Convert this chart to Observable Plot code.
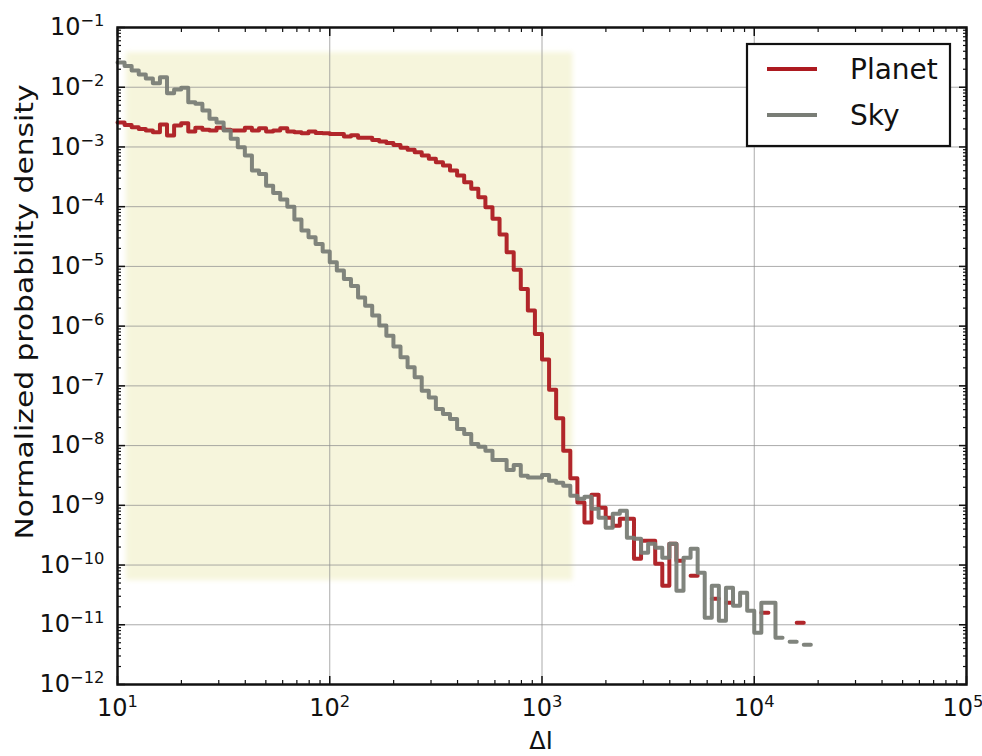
<!DOCTYPE html>
<html><head><meta charset="utf-8">
<script src="https://cdn.jsdelivr.net/npm/d3@7"></script>
<script src="https://cdn.jsdelivr.net/npm/@observablehq/plot@0.6"></script>
<style>body{margin:0;background:#fff;overflow:hidden;}</style>
</head><body><div id="chart"></div>
<script>
// log-spaced histogram bins: 30 per decade, starting at 10
const binMantissa = [1, 1.0798, 1.1659, 1.2589, 1.3594, 1.4678, 1.5849, 1.7113, 1.8478, 1.9953,
  2.1544, 2.3263, 2.5119, 2.7123, 2.9286, 3.1623, 3.4146, 3.6869, 3.9811, 4.2987,
  4.6416, 5.0119, 5.4117, 5.8434, 6.3096, 6.8129, 7.3564, 7.9433, 8.5770, 9.2612];
const binDecades = [10, 100, 1000, 10000];

// Normalized probability density per bin (null = empty bin)
const planet = [
  2.56e-3, 2.33e-3, 2.14e-3, 2.00e-3, 1.88e-3, 1.76e-3, 2.37e-3, 1.55e-3, 2.28e-3, 2.49e-3,
  1.81e-3, 2.09e-3, 1.95e-3, 1.88e-3, 2.09e-3, 1.95e-3, 1.88e-3, 1.88e-3, 2.09e-3, 1.88e-3,
  2.05e-3, 1.81e-3, 1.88e-3, 2.05e-3, 1.81e-3, 1.76e-3, 1.69e-3, 1.81e-3, 1.72e-3, 1.69e-3,
  1.65e-3, 1.65e-3, 1.49e-3, 1.57e-3, 1.42e-3, 1.42e-3, 1.31e-3, 1.23e-3, 1.17e-3, 1.08e-3,
  9.66e-4, 8.94e-4, 8.15e-4, 7.18e-4, 6.32e-4, 5.55e-4, 4.88e-4, 4.02e-4, 3.32e-4, 2.56e-4,
  1.99e-4, 1.44e-4, 9.77e-5, 6.25e-5, 3.41e-5, 1.72e-5, 8.83e-6, 4.20e-6, 1.82e-6, 7.40e-7,
  2.75e-7, 8.63e-8, 2.88e-8, 8.22e-9, 2.84e-9, 1.12e-9, 5.18e-10, 1.51e-9, 9.12e-10, 6.20e-10,
  4.55e-10, 5.97e-10, 5.97e-10, 1.28e-10, 2.55e-10, 2.55e-10, 1.05e-10, 4.50e-11, 2.28e-10, 1.18e-10,
  null, 6.62e-11, null, null, 2.73e-11, null, 2.34e-11, null, null, null,
  null, 1.59e-11, null, null, null, null, 1.08e-11, null
];
const sky = [
  2.59e-2, 2.26e-2, 1.90e-2, 1.63e-2, 1.40e-2, 1.17e-2, 1.47e-2, 7.94e-3, 9.15e-3, 9.77e-3,
  5.61e-3, 5.27e-3, 4.07e-3, 2.96e-3, 2.56e-3, 1.88e-3, 1.37e-3, 9.89e-4, 7.18e-4, 4.02e-4,
  3.54e-4, 2.25e-4, 1.69e-4, 1.32e-4, 1.00e-4, 6.08e-5, 3.98e-5, 3.07e-5, 2.38e-5, 1.77e-5,
  1.17e-5, 8.51e-6, 6.18e-6, 4.68e-6, 3.03e-6, 2.20e-6, 1.50e-6, 1.02e-6, 6.93e-7, 4.54e-7,
  3.00e-7, 2.04e-7, 1.39e-7, 8.31e-8, 6.41e-8, 4.10e-8, 3.38e-8, 2.79e-8, 1.90e-8, 1.56e-8,
  1.06e-8, 9.59e-9, 8.22e-9, 5.74e-9, 5.74e-9, 3.90e-9, 4.73e-9, 3.13e-9, 2.93e-9, 2.93e-9,
  3.22e-9, 2.58e-9, 2.39e-9, 2.13e-9, 1.45e-9, 1.29e-9, 1.39e-9, 8.77e-10, 6.20e-10, 4.21e-10,
  7.22e-10, 8.12e-10, 2.86e-10, 2.76e-10, 1.61e-10, 2.28e-10, 1.95e-10, 1.32e-10, 2.28e-10, 3.72e-11,
  1.32e-10, 1.88e-10, 7.43e-11, 1.31e-11, 4.50e-11, 1.17e-11, 4.17e-11, 2.08e-11, 3.44e-11, 1.72e-11,
  7.34e-12, 2.34e-11, 2.34e-11, 6.05e-12, null, 5.19e-12, null, 4.62e-12
];

const seriesNames = ["Planet", "Sky"];
const seriesColors = ["#ad1a20", "#797d76"];
const xMajor = [10, 100, 1000, 10000, 100000];
const yExponents = [-12, -11, -10, -9, -8, -7, -6, -5, -4, -3, -2, -1];
const minorMult = [2, 3, 4, 5, 6, 7, 8, 9];
const shade = {x1: 11, x2: 1400, y1: 5.5e-11, y2: 3.8e-2};
const FONT = "DejaVu Sans";

const edges = [];
for (const d of binDecades) for (const m of binMantissa) edges.push(d * m);

function stepPoints(values) {
  const pts = [];
  values.forEach((v, k) => {
    if (v == null) { pts.push({x: edges[k], y: NaN}); return; }
    pts.push({x: edges[k], y: v}, {x: edges[k + 1], y: v});
  });
  return pts;
}
const planetPts = stepPoints(planet);
const skyPts = stepPoints(sky);

const yMajor = yExponents.map(e => Math.pow(10, e));
const xMinor = [];
xMajor.slice(0, -1).forEach(d => minorMult.forEach(m => xMinor.push(d * m)));
const yMinor = [];
yMajor.slice(0, -1).forEach(d => minorMult.forEach(m => yMinor.push(d * m)));
const expFmt = d => "10^" + Math.round(Math.log10(d));
const noLabel = () => "";

const tickStyle = {stroke: "#111", tickFormat: noLabel};

const chart = Plot.plot({
  width: 982, height: 756,
  marginTop: 27, marginRight: 16, marginBottom: 72, marginLeft: 117,
  style: {fontFamily: FONT, background: "#fff", overflow: "visible"},
  x: {type: "log", domain: [10, 100000], label: null},
  y: {type: "log", domain: [1e-12, 1e-1], label: null},
  marks: [
    Plot.rect([shade], {x1: "x1", x2: "x2", y1: "y1", y2: "y2", fill: "#f6f5dc"}),
    Plot.gridX(xMajor.slice(1, -1), {stroke: "#8f8f8f", strokeOpacity: 0.75, strokeWidth: 1}),
    Plot.gridY(yMajor.slice(1, -1), {stroke: "#8f8f8f", strokeOpacity: 0.75, strokeWidth: 1}),
    Plot.line(planetPts, {x: "x", y: "y", stroke: seriesColors[0], strokeWidth: 4, strokeOpacity: 0.95}),
    Plot.line(skyPts, {x: "x", y: "y", stroke: seriesColors[1], strokeWidth: 4, strokeOpacity: 0.95}),
    Plot.axisX(xMajor, {anchor: "bottom", tickSize: -8, strokeWidth: 1.5, ...tickStyle}),
    Plot.axisX(xMajor, {anchor: "top", tickSize: -8, strokeWidth: 1.5, ...tickStyle}),
    Plot.axisX(xMinor, {anchor: "bottom", tickSize: -4, strokeWidth: 1.2, ...tickStyle}),
    Plot.axisX(xMinor, {anchor: "top", tickSize: -4, strokeWidth: 1.2, ...tickStyle}),
    Plot.axisY(yMajor, {anchor: "left", tickSize: -8, strokeWidth: 1.5, ...tickStyle}),
    Plot.axisY(yMajor, {anchor: "right", tickSize: -8, strokeWidth: 1.5, ...tickStyle}),
    Plot.axisY(yMinor, {anchor: "left", tickSize: -4, strokeWidth: 1.2, ...tickStyle}),
    Plot.axisY(yMinor, {anchor: "right", tickSize: -4, strokeWidth: 1.2, ...tickStyle}),
    Plot.axisX(xMajor, {anchor: "bottom", tickSize: 0, tickPadding: 14, tickFormat: expFmt, fontSize: 24, fill: "#111"}),
    Plot.axisY(yMajor, {anchor: "left", tickSize: 0, tickPadding: 13, tickFormat: expFmt, fontSize: 24, fill: "#111"}),
    Plot.frame({stroke: "#111", strokeWidth: 2.5})
  ]
});

document.getElementById("chart").appendChild(chart);
const svg = d3.select(chart);

// soft edges on the shaded region
svg.insert("defs", ":first-child").html('<filter id="soft" x="-5%" y="-5%" width="110%" height="110%"><feGaussianBlur stdDeviation="2.5"/></filter>');
svg.select('g[aria-label="rect"]').attr("filter", "url(#soft)");

// superscript exponents in tick labels
svg.selectAll('g[aria-label="x-axis tick label"] text, g[aria-label="y-axis tick label"] text').each(function () {
  const t = d3.select(this);
  const s = t.text();
  if (!s.includes("^")) return;
  const [base, ex] = s.split("^");
  t.text(null);
  t.append("tspan").text(base);
  t.append("tspan").attr("dy", "-0.55em").attr("font-size", "0.68em").text(ex.replace("-", "\u2212"));
});
// keep the right-most x label inside the picture
const xLabels = svg.selectAll('g[aria-label="x-axis tick label"] text').nodes();
if (xLabels.length) {
  const last = xLabels[xLabels.length - 1];
  last.setAttribute("text-anchor", "end");
  last.setAttribute("dx", "17");
}

// axis titles
svg.append("text").attr("x", 541).attr("y", 749).attr("text-anchor", "middle")
  .attr("font-family", FONT).attr("font-size", 24).attr("fill", "#111").text("ΔI");
svg.append("text").attr("transform", "translate(33,312) rotate(-90)").attr("text-anchor", "middle")
  .attr("font-family", FONT).attr("font-size", 25).attr("fill", "#111")
  .attr("textLength", 455).attr("lengthAdjust", "spacingAndGlyphs")
  .text("Normalized probability density");

// legend
const lg = svg.append("g");
lg.append("rect").attr("x", 747).attr("y", 44).attr("width", 203).attr("height", 102)
  .attr("fill", "#fff").attr("stroke", "#111").attr("stroke-width", 2.2);
seriesNames.forEach((name, i) => {
  const y = 69 + i * 46;
  lg.append("line").attr("x1", 767).attr("x2", 817).attr("y1", y).attr("y2", y)
    .attr("stroke", seriesColors[i]).attr("stroke-width", 4);
  lg.append("text").attr("x", 850).attr("y", y + 10).attr("text-anchor", "start")
    .attr("font-family", FONT).attr("font-size", 28).attr("fill", "#111").text(name);
});
</script></body></html>
